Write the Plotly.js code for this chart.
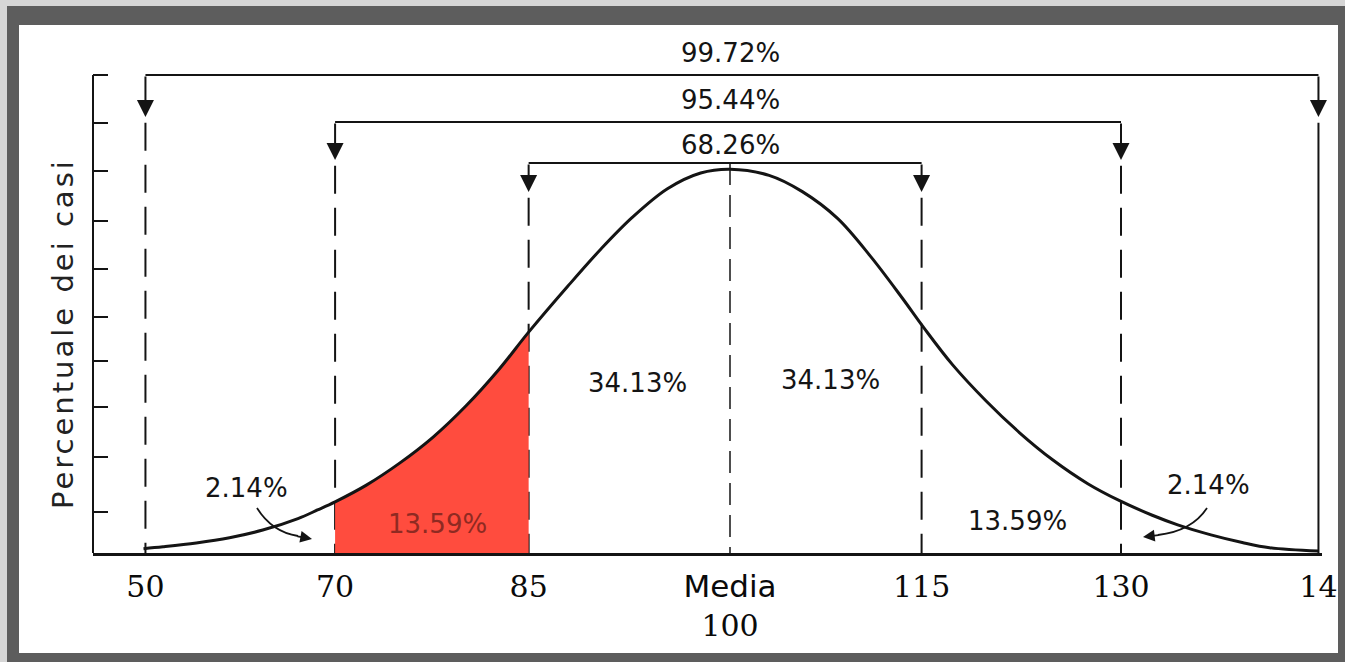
<!DOCTYPE html>
<html><head><meta charset="utf-8">
<script src="https://cdn.plot.ly/plotly-3.0.1.min.js"></script>
<style>html,body{margin:0;padding:0;background:#5d5d5d;overflow:hidden}#chart{width:1345px;height:662px}</style>
</head><body><div id="chart"></div>
<script>
// ---- data ----
// curve (x in standard-deviation positions, y in axis tick units)
const CURVE_X = [-3.00,-2.90,-2.73,-2.56,-2.39,-2.21,-2.11,-2.02,-1.86,-1.69,-1.52,-1.35,-1.18,-1.03,-0.83,-0.66,-0.50,-0.32,-0.15,0.00,0.20,0.37,0.55,0.72,0.88,0.99,1.14,1.31,1.48,1.65,1.83,1.99,2.16,2.29,2.46,2.62,2.76,3.01];
const CURVE_Y = [0.09,0.13,0.21,0.32,0.48,0.72,0.90,1.07,1.42,1.88,2.42,3.08,3.85,4.62,5.58,6.36,7.02,7.62,7.95,8.03,7.90,7.56,7.00,6.20,5.34,4.72,3.93,3.18,2.52,1.95,1.45,1.10,0.79,0.59,0.38,0.22,0.11,0.04];
// score marks (vertical lines) and their labels
const LINE_X = [-2.99,-2.02,-1.03,0.00,0.98,2.00,3.01];
const TICK_LABELS = ['50','70','85','Media','115','130','14'];
const MEAN_VALUE = '100';
const Y_TICKS = [0.86,2.01,3.05,4.02,4.94,5.94,6.95,8.00,9.00,10.00];
// bracket percentages (outer to inner) and area percentages (left to right)
const BRACKET_LABELS = ['99.72%','95.44%','68.26%'];
const AREA_LABELS = ['2.14%','13.59%','34.13%','34.13%','13.59%','2.14%'];

// ---- helpers: convert picture pixels to axis units for placement ----
const PXC = 730, PXS = 195.5, PYB = 553, PYS = 47.8;
const px2x = p => (p - PXC) / PXS;
const py2y = p => (PYB - p) / PYS;
const fx = p => (p - 93) / 1229;       // paper x
const fy = p => (553 - p) / 528;       // paper y

const INK = '#141414';
const SANS = 'DejaVu Sans';
const SERIF = 'DejaVu Serif';

// fill segment: between the 70 and 85 marks
const fillX = [], fillY = [];
CURVE_X.forEach((x, i) => { if (x >= LINE_X[1] - 1e-9 && x <= LINE_X[2] + 1e-9) { fillX.push(x); fillY.push(CURVE_Y[i]); } });

const traces = [
  {x: fillX, y: fillY, type: 'scatter', mode: 'lines', line: {width: 0, shape: 'spline', smoothing: 1},
   fill: 'tozeroy', fillcolor: '#ff4c3e', hoverinfo: 'skip', showlegend: false},
  {x: CURVE_X, y: CURVE_Y, type: 'scatter', mode: 'lines', line: {color: INK, width: 3, shape: 'spline', smoothing: 1},
   hoverinfo: 'skip', showlegend: false, cliponaxis: false}
];

const shapes = [];
const annotations = [];

// frame
shapes.push({type: 'rect', xref: 'paper', yref: 'paper', x0: fx(0), x1: fx(7), y0: fy(662), y1: fy(0), fillcolor: '#d6d6d6', line: {width: 0}, layer: 'below'});
shapes.push({type: 'rect', xref: 'paper', yref: 'paper', x0: fx(0), x1: fx(1345), y0: fy(6), y1: fy(0), fillcolor: '#d6d6d6', line: {width: 0}, layer: 'below'});
shapes.push({type: 'rect', xref: 'paper', yref: 'paper', x0: fx(19), x1: fx(1338), y0: fy(653), y1: fy(25), fillcolor: '#ffffff', line: {width: 0}, layer: 'below'});

// y axis line (only up to top tick)
shapes.push({type: 'line', xref: 'paper', yref: 'y', x0: 0, x1: 0, y0: 0, y1: Y_TICKS[Y_TICKS.length - 1], line: {color: INK, width: 2}});

// brackets
const LEVELS = [py2y(75), py2y(122), py2y(163)];
const TIPS = [py2y(117), py2y(160), py2y(192)];
BRACKET_LABELS.forEach((lab, k) => {
  const xl = LINE_X[k], xr = LINE_X[6 - k];
  shapes.push({type: 'line', xref: 'x', yref: 'y', x0: xl, x1: xr, y0: LEVELS[k], y1: LEVELS[k], line: {color: INK, width: 2}});
  [xl, xr].forEach(xx => {
    annotations.push({x: xx, y: TIPS[k], ax: xx, ay: LEVELS[k], xref: 'x', yref: 'y', axref: 'x', ayref: 'y',
      text: '', showarrow: true, arrowhead: 2, arrowsize: 1.7, arrowwidth: 2, arrowcolor: INK, standoff: 0, startstandoff: 0});
  });
  annotations.push({x: 0, y: py2y([53, 100, 145][k]), xref: 'x', yref: 'y', text: lab, showarrow: false,
    font: {family: SANS, size: 26, color: INK}});
});

// vertical score lines
LINE_X.forEach((xx, i) => {
  if (i === 3) {
    shapes.push({type: 'line', xref: 'x', yref: 'y', x0: xx, x1: xx, y0: LEVELS[2], y1: 0, line: {color: INK, width: 1.5, dash: '22px,10px'}, layer: 'below'});
    return;
  }
  const k = Math.min(i, 6 - i);
  const top = TIPS[k] - 0.12;
  shapes.push({type: 'line', xref: 'x', yref: 'y', x0: xx, x1: xx, y0: top, y1: 0,
    line: {color: INK, width: 2, dash: i === 6 ? 'solid' : '28px,14px'}, layer: 'below'});
});

// area labels
const AREA_POS = [[246, 488], [437, 524], [637, 383], [830, 380], [1017, 521], [1208, 485]];
AREA_LABELS.forEach((lab, i) => {
  annotations.push({x: px2x(AREA_POS[i][0]), y: py2y(AREA_POS[i][1]), xref: 'x', yref: 'y', text: lab, showarrow: false,
    font: {family: SANS, size: 26, color: i === 1 ? '#8e2a22' : INK}});
});

// curved pointers for the tails
shapes.push({type: 'path', xref: 'x', yref: 'y', layer: 'above', line: {color: INK, width: 1.8},
  path: `M ${px2x(257)},${py2y(508)} Q ${px2x(272)},${py2y(532)} ${px2x(298)},${py2y(536)}`});
annotations.push({x: px2x(312), y: py2y(539), ax: px2x(296), ay: py2y(536), xref: 'x', yref: 'y', axref: 'x', ayref: 'y',
  text: '', showarrow: true, arrowhead: 2, arrowsize: 1.3, arrowwidth: 1.8, arrowcolor: INK, standoff: 0});
shapes.push({type: 'path', xref: 'x', yref: 'y', layer: 'above', line: {color: INK, width: 1.8},
  path: `M ${px2x(1207)},${py2y(508)} Q ${px2x(1192)},${py2y(531)} ${px2x(1158)},${py2y(535)}`});
annotations.push({x: px2x(1143), y: py2y(537), ax: px2x(1160), ay: py2y(535), xref: 'x', yref: 'y', axref: 'x', ayref: 'y',
  text: '', showarrow: true, arrowhead: 2, arrowsize: 1.3, arrowwidth: 1.8, arrowcolor: INK, standoff: 0});

// y axis title
annotations.push({xref: 'paper', yref: 'paper', x: fx(44), y: fy(334), text: 'Percentuale dei casi', showarrow: false,
  textangle: -90, font: {family: SANS, size: 29, color: '#222'}});

const tickText = TICK_LABELS.map((t, i) => i === 3
  ? `<span style="font-family:'${SANS}';font-size:31px">${t}</span><br>${MEAN_VALUE}` : t);

const layout = {
  width: 1345, height: 662,
  margin: {l: 93, r: 23, t: 25, b: 109, pad: 0},
  paper_bgcolor: '#5d5d5d', plot_bgcolor: '#ffffff',
  showlegend: false, hovermode: false,
  xaxis: {range: [px2x(93), px2x(1322)], showgrid: false, zeroline: false, showline: true, linecolor: INK, linewidth: 2.5,
    ticks: '', tickvals: LINE_X, ticktext: tickText, ticklabelstandoff: 5,
    tickfont: {family: SERIF, size: 30, color: '#0a0a0a'}, fixedrange: true},
  yaxis: {range: [0, py2y(25)], showgrid: false, zeroline: false, showline: false, showticklabels: false,
    ticks: 'inside', ticklen: 15, tickwidth: 2, tickcolor: INK, tickvals: Y_TICKS, fixedrange: true},
  shapes: shapes, annotations: annotations
};

Plotly.newPlot('chart', traces, layout, {displayModeBar: false, staticPlot: true}).then(gd => {
  // widen the letter spacing of the vertical axis caption as in the original
  gd.querySelectorAll('.annotation-text').forEach(t => {
    if (t.textContent === 'Percentuale dei casi') t.style.letterSpacing = '3px';
  });
});
</script>
</body></html>
